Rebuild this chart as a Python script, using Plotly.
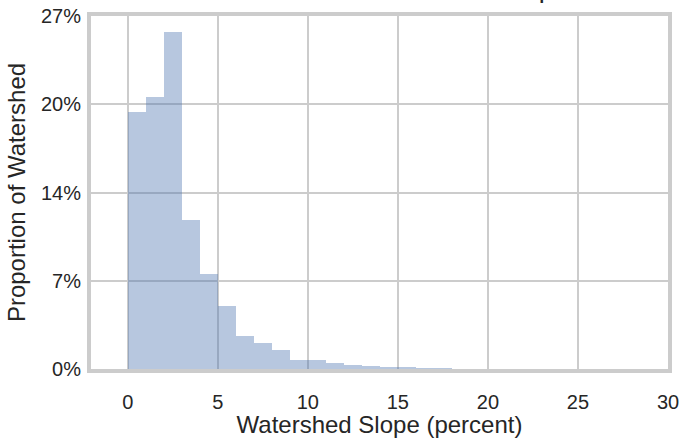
import plotly.graph_objects as go

# Histogram bins (left edges, width 1 percent) and proportion of watershed in each
bin_left = list(range(0, 18))
bin_width = 1
proportion = [0.1967, 0.2077, 0.2574, 0.1139, 0.0726, 0.0484, 0.0249, 0.0199,
              0.0145, 0.0071, 0.0071, 0.0043, 0.0030, 0.0023, 0.0015, 0.0015,
              0.0008, 0.0008]

x_ticks = [0, 5, 10, 15, 20, 25, 30]
y_ticks = [0, 0.0675, 0.135, 0.2025, 0.27]
y_tick_text = ["0%", "7%", "14%", "20%", "27%"]

title_text = "Distribution of Watershed Slope"
x_title = "Watershed Slope (percent)"
y_title = "Proportion of Watershed"

fig = go.Figure()
fig.add_trace(go.Bar(
    x=bin_left, y=proportion, width=bin_width, offset=0,
    marker=dict(color="rgba(76,114,176,0.4)", line=dict(width=0)),
    showlegend=False, hoverinfo="skip"))

font_family = "Liberation Sans, Arial, sans-serif"
text_color = "#262626"
grid_color = "#cccccc"

fig.update_layout(
    width=690, height=438,
    margin=dict(l=91, r=22, t=16, b=69, autoexpand=False),
    paper_bgcolor="white", plot_bgcolor="white",
    bargap=0,
    font=dict(family=font_family, color=text_color),
    xaxis=dict(
        range=[-2.04, 30], tickvals=x_ticks, ticktext=[str(v) for v in x_ticks],
        showgrid=True, gridcolor=grid_color, gridwidth=2, zeroline=False,
        showline=True, linecolor=grid_color, linewidth=4, mirror=True,
        ticks="", ticklabelstandoff=12, automargin=False,
        tickfont=dict(size=20, color=text_color),
        title=dict(text=x_title, font=dict(size=24, color=text_color), standoff=14),
    ),
    yaxis=dict(
        range=[0, 0.27], tickvals=y_ticks, ticktext=y_tick_text,
        showgrid=True, gridcolor=grid_color, gridwidth=2, zeroline=False,
        showline=True, linecolor=grid_color, linewidth=4, mirror=True,
        ticks="", ticklabelstandoff=2, automargin=False,
        tickfont=dict(size=20, color=text_color),
        title=dict(text=y_title, font=dict(size=24, color=text_color), standoff=10),
    ),
)

# Chart title sits mostly above the visible page (only a descender shows)
fig.add_annotation(
    text=title_text, xref="paper", yref="paper", x=0.5, y=1.0, yshift=11,
    xanchor="center", yanchor="bottom", showarrow=False,
    font=dict(size=27, color=text_color, family=font_family))

fig.write_html("out.html", config={"displayModeBar": False},
               post_script="document.body.style.margin='0';")
